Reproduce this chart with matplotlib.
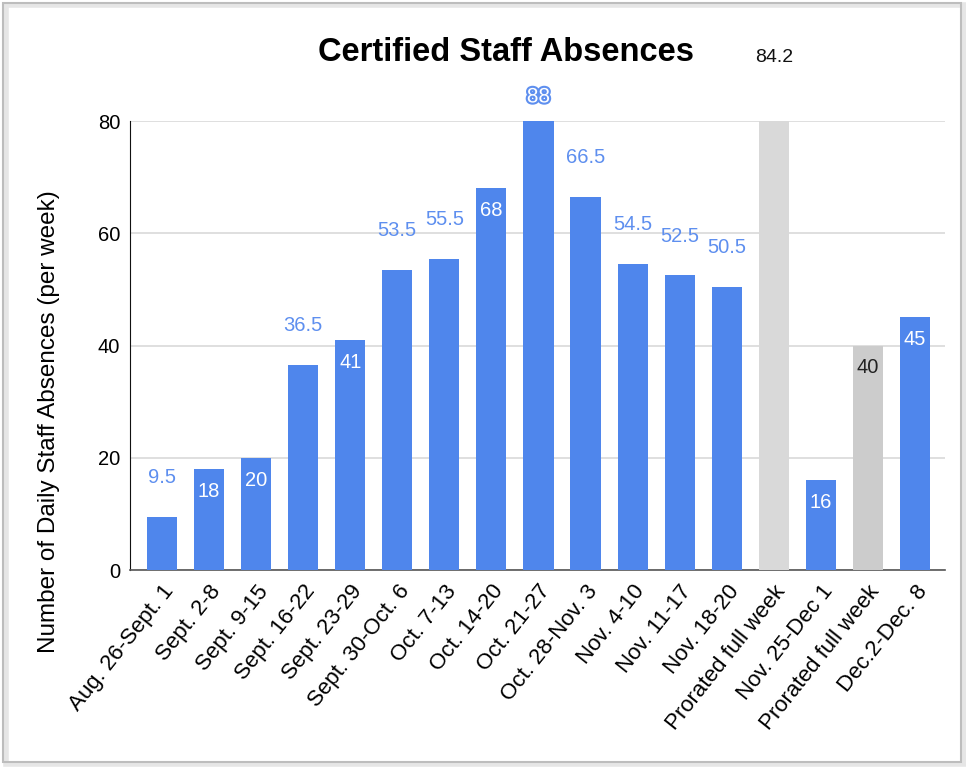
import matplotlib.pyplot as plt
import matplotlib.patheffects as pe
from matplotlib.patches import Rectangle

plt.rcParams['font.family'] = ['Liberation Sans', 'DejaVu Sans']

weeks = ["Aug. 26-Sept. 1", "Sept. 2-8", "Sept. 9-15", "Sept. 16-22", "Sept. 23-29",
         "Sept. 30-Oct. 6", "Oct. 7-13", "Oct. 14-20", "Oct. 21-27", "Oct. 28-Nov. 3",
         "Nov. 4-10", "Nov. 11-17", "Nov. 18-20", "Prorated full week", "Nov. 25-Dec 1",
         "Prorated full week", "Dec.2-Dec. 8"]
absences = [9.5, 18, 20, 36.5, 41, 53.5, 55.5, 68, 88, 66.5, 54.5, 52.5, 50.5, 84.2, 16, 40, 45]
prorated = [False] * 13 + [True, False, True, False]

# where each value label goes: 'out' above the bar, 'in' inside the top
label_place = ['out', 'in', 'in', 'out', 'in', 'out', 'out', 'in', 'top', 'out',
               'out', 'out', 'out', 'top', 'in', 'in', 'in']

blue = '#4f86ec'
label_blue = '#5e8fef'
gray1 = '#d9d9d9'
gray2 = '#cccccc'

fig = plt.figure(figsize=(9.66, 7.67), dpi=100)
ax = fig.add_axes([0.1346, 0.2568, 0.8437, 0.5854])

colors = []
gi = 0
for p in prorated:
    if p:
        colors.append(gray1 if gi == 0 else gray2)
        gi += 1
    else:
        colors.append(blue)

ymax = 80
x = list(range(len(weeks)))
bars = ax.bar(x, [min(v, ymax) for v in absences], width=0.64, color=colors, zorder=3)

ax.set_ylim(0, ymax)
ax.set_xlim(-0.68, len(weeks) - 1 + 0.64)
ax.set_yticks([0, 20, 40, 60, 80])
ax.yaxis.grid(True, color='#d9d9d9', linewidth=1.2, zorder=0)
ax.tick_params(axis='y', length=0, labelsize=14.5, pad=7)
ax.tick_params(axis='x', length=0, pad=8)
ax.set_xticks(x)
ax.set_xticklabels(weeks, rotation=51.5, ha='right', rotation_mode='anchor', fontsize=16)
for s in ['top', 'right']:
    ax.spines[s].set_visible(False)
ax.spines['left'].set_color('#111111')
ax.spines['bottom'].set_color('#555555')
ax.spines['bottom'].set_linewidth(1.2)

ax.set_ylabel("Number of Daily Staff Absences (per week)", fontsize=17.5)
ax.yaxis.set_label_coords(-0.086, 0.33)

for i, (v, place) in enumerate(zip(absences, label_place)):
    txt = f"{v:g}"
    if place == 'out':
        ax.text(i, v + 7, txt, ha='center', va='center', fontsize=14.5, color=label_blue)
    elif place == 'in':
        c = '#222222' if prorated[i] else 'white'
        ax.text(i, v - 4, txt, ha='center', va='center', fontsize=14.5, color=c, zorder=4)
    else:
        if prorated[i]:
            ax.text(i, ymax + 11.4, txt, ha='center', va='center', fontsize=14,
                    color='#111111', clip_on=False)
        else:
            ax.text(i, ymax + 4.3, txt, ha='center', va='center', fontsize=15,
                    color='white', clip_on=False,
                    path_effects=[pe.withStroke(linewidth=3, foreground=label_blue)])

fig.text(0.524, 0.932, "Certified Staff Absences", ha='center', va='center',
         fontsize=23.5, fontweight='bold')

# picture frame with a soft shadow
fig.patches.append(Rectangle((0.006, 0.004), 0.992, 0.99, transform=fig.transFigure,
                             fill=False, edgecolor='#e6e6e6', linewidth=4))
fig.patches.append(Rectangle((0.003, 0.006), 0.992, 0.99, transform=fig.transFigure,
                             fill=False, edgecolor='#bdbdbd', linewidth=1.5))

fig.savefig('out.png', dpi=100)
